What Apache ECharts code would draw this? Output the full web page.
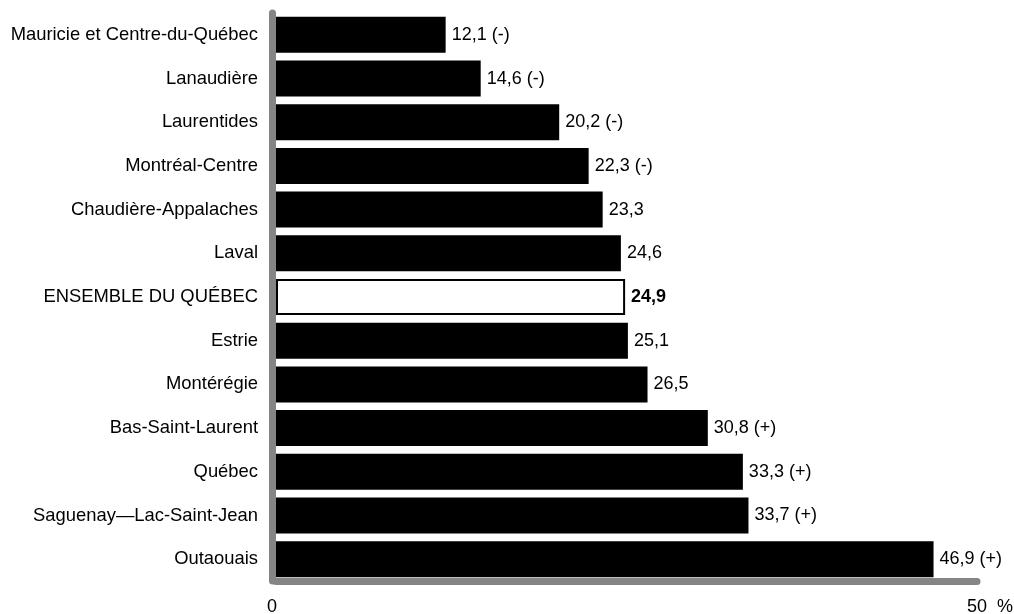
<!DOCTYPE html>
<html>
<head>
<meta charset="utf-8">
<script src="https://cdn.jsdelivr.net/npm/echarts@6/dist/echarts.min.js"></script>
<style>html,body{margin:0;padding:0;background:#fff;}#c{width:1014px;height:614px;}</style>
</head>
<body>
<div id="c"></div>
<script>
const categories = ["Mauricie et Centre-du-Québec","Lanaudière","Laurentides","Montréal-Centre","Chaudière-Appalaches","Laval","ENSEMBLE DU QUÉBEC","Estrie","Montérégie","Bas-Saint-Laurent","Québec","Saguenay—Lac-Saint-Jean","Outaouais"];
const values = [12.1,14.6,20.2,22.3,23.3,24.6,24.9,25.1,26.5,30.8,33.3,33.7,46.9];
const flags = ["(-)","(-)","(-)","(-)","","","","","","(+)","(+)","(+)","(+)"];
const totalIndex = 6;
const xMin = 0, xMax = 50, xInterval = 50;

const FONT = "'Liberation Sans', Arial, sans-serif";
const FS = 18;
const chart = echarts.init(document.getElementById('c'), null, {renderer:'canvas'});

const data = values.map((v, i) => {
  const isTotal = i === totalIndex;
  return {
    value: v,
    itemStyle: isTotal ? {color:'#ffffff', borderColor:'#000000', borderWidth:2} : {color:'#000000'},
    label: isTotal ? {fontWeight:'bold'} : {}
  };
});

chart.setOption({
  animation: false,
  backgroundColor: '#ffffff',
  grid: {left: 276, right: 37, top: 13, bottom: 33, containLabel: false, outerBoundsMode: 'none'},
  xAxis: {
    type: 'value', min: xMin, max: xMax, interval: xInterval,
    axisLine: {show: true, onZero: false, lineStyle: {color: '#858585', width: 7, cap: 'round'}},
    axisTick: {show: false},
    splitLine: {show: false},
    axisLabel: {
      margin: 17, fontFamily: FONT, fontSize: FS, color: '#000',
      formatter: v => v === xMax ? '{pad|}{n|' + v + '}{u|%}' : '{z|' + v + '}',
      rich: {
        z: {padding: [0, 8, 0, 0], fontFamily: FONT, fontSize: FS, color: '#000'},
        pad: {width: 26, fontFamily: FONT, fontSize: FS},
        n: {fontFamily: FONT, fontSize: FS, color: '#000'},
        u: {width: 26, align: 'right', fontFamily: FONT, fontSize: FS, color: '#000'}
      }
    }
  },
  yAxis: {
    type: 'category', data: categories, inverse: true, offset: 4,
    axisLine: {show: true, onZero: false, lineStyle: {color: '#858585', width: 7, cap: 'round'}},
    axisTick: {show: false},
    axisLabel: {margin: 14, fontFamily: FONT, fontSize: 18.4, color: '#000'}
  },
  series: [{
    type: 'bar', data: data, barCategoryGap: '17.6%',
    label: {
      show: true, position: 'right', distance: 6,
      fontFamily: FONT, fontSize: FS, color: '#000',
      formatter: p => {
        const s = p.value.toFixed(1).replace('.', ',');
        const f = flags[p.dataIndex];
        return f ? s + ' ' + f : s;
      }
    }
  }]
});
</script>
</body>
</html>
